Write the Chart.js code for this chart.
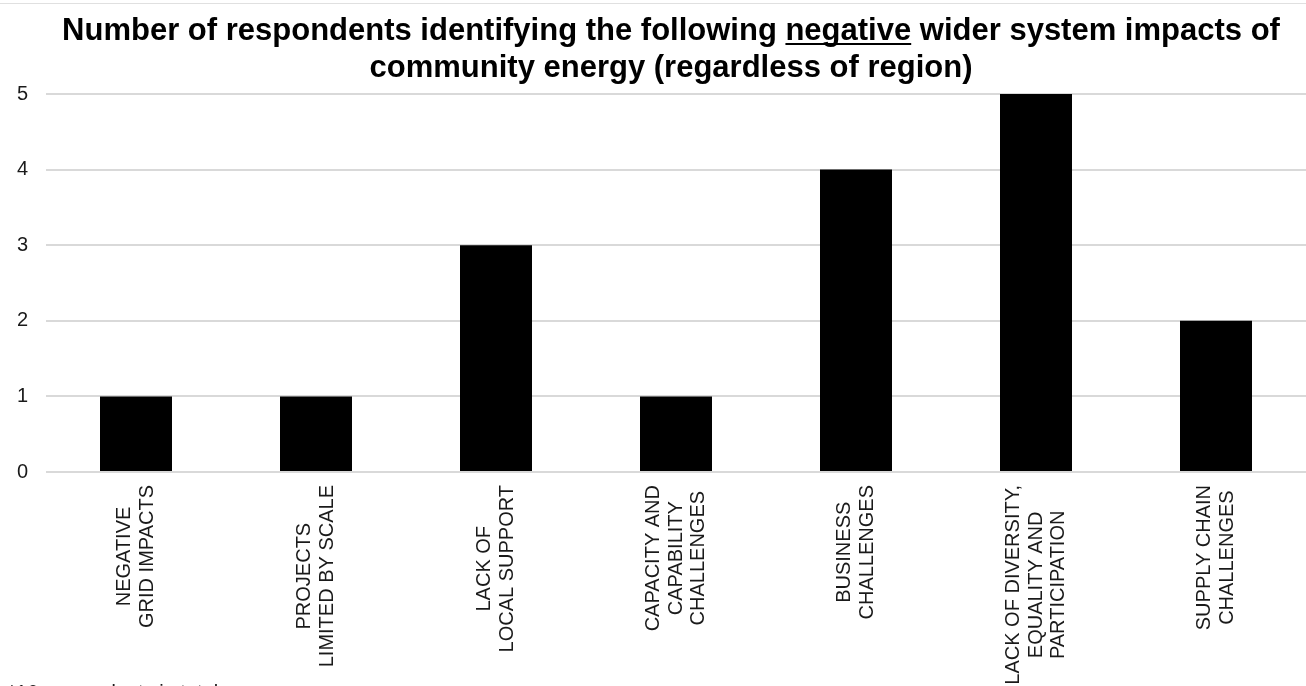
<!DOCTYPE html>
<html lang="en">
<head>
  <meta charset="UTF-8">
  <title>Negative wider system impacts of community energy</title>
  <script src="https://cdn.jsdelivr.net/npm/chart.js"></script>
  <style>
    body {margin: 0; background: #fff;}
    #impactChart {display: block;}
  </style>
</head>
<body>

<canvas id="impactChart" width="1306" height="686"></canvas>

<script>
  // category labels, one array entry per printed line
  const categories = [
    ['NEGATIVE', 'GRID IMPACTS'],
    ['PROJECTS', 'LIMITED BY SCALE'],
    ['LACK OF', 'LOCAL SUPPORT'],
    ['CAPACITY AND', 'CAPABILITY', 'CHALLENGES'],
    ['BUSINESS', 'CHALLENGES'],
    ['LACK OF DIVERSITY,', 'EQUALITY AND', 'PARTICIPATION'],
    ['SUPPLY CHAIN', 'CHALLENGES']
  ];
  const respondents = [1, 1, 3, 1, 4, 5, 2];
  const yTicks = [0, 1, 2, 3, 4, 5];
  const titleLines = [
    'Number of respondents identifying the following negative wider system impacts of',
    'community energy (regardless of region)'
  ];
  const underlinedWord = 'negative';
  const footnote = '*16 respondents in total';

  const FONT = "'Liberation Sans', Arial, sans-serif";

  // title with the underlined word, centred multi-line x labels, footnote
  const textPlugin = {
    id: 'textPlugin',
    afterDraw(chart) {
      const ctx = chart.ctx;
      const area = chart.chartArea;
      const xScale = chart.scales.x;
      ctx.save();

      ctx.fillStyle = '#e0e0e0';
      ctx.fillRect(0, 3, chart.width, 1);

      // title
      ctx.fillStyle = '#000';
      ctx.font = 'bold 31px ' + FONT;
      ctx.textAlign = 'center';
      ctx.textBaseline = 'alphabetic';
      const cx = 671;
      ctx.fillText(titleLines[0], cx, 40);
      ctx.fillText(titleLines[1], cx, 77);
      const full = ctx.measureText(titleLines[0]).width;
      const pos = titleLines[0].indexOf(underlinedWord);
      const ux = cx - full / 2 + ctx.measureText(titleLines[0].slice(0, pos)).width;
      ctx.fillRect(ux, 43, ctx.measureText(underlinedWord).width, 2);

      // x labels, rotated, lines centred on each other
      ctx.font = '20px ' + FONT;
      ctx.fillStyle = '#1a1a1a';
      categories.forEach((lines, i) => {
        const px = xScale.getPixelForValue(i);
        const maxW = Math.max(...lines.map(l => ctx.measureText(l).width));
        ctx.save();
        ctx.translate(px, area.bottom + 13 + maxW / 2);
        ctx.rotate(-Math.PI / 2);
        ctx.textAlign = 'center';
        ctx.textBaseline = 'middle';
        lines.forEach((l, j) => ctx.fillText(l, 0, (j - (lines.length - 1) / 2) * 22.5));
        ctx.restore();
      });

      // footnote (runs off the bottom edge)
      ctx.textAlign = 'left';
      ctx.textBaseline = 'alphabetic';
      ctx.fillText(footnote, 8, 699);
      ctx.restore();
    }
  };

  new Chart(document.getElementById('impactChart'), {
    type: 'bar',
    data: {
      labels: categories.map(c => c.join(' ')),
      datasets: [{
        data: respondents,
        backgroundColor: '#000',
        barPercentage: 0.4,
        categoryPercentage: 1
      }]
    },
    options: {
      responsive: false,
      animation: false,
      layout: { padding: { top: 94, left: 0, right: 0, bottom: 0 } },
      plugins: {
        legend: { display: false },
        tooltip: { enabled: false },
        title: { display: false }
      },
      scales: {
        x: {
          grid: { display: false },
          border: { display: false },
          ticks: { display: false },
          afterFit: s => { s.height = 214; }
        },
        y: {
          min: yTicks[0],
          max: yTicks[yTicks.length - 1],
          afterBuildTicks: s => { s.ticks = yTicks.map(v => ({ value: v })); },
          afterFit: s => { s.width = 46; },
          border: { display: false },
          grid: { color: '#d9d9d9', lineWidth: 2, drawTicks: false },
          ticks: {
            padding: 18,
            color: '#1a1a1a',
            font: { family: FONT, size: 20 }
          }
        }
      }
    },
    plugins: [textPlugin]
  });
</script>

</body>
</html>
